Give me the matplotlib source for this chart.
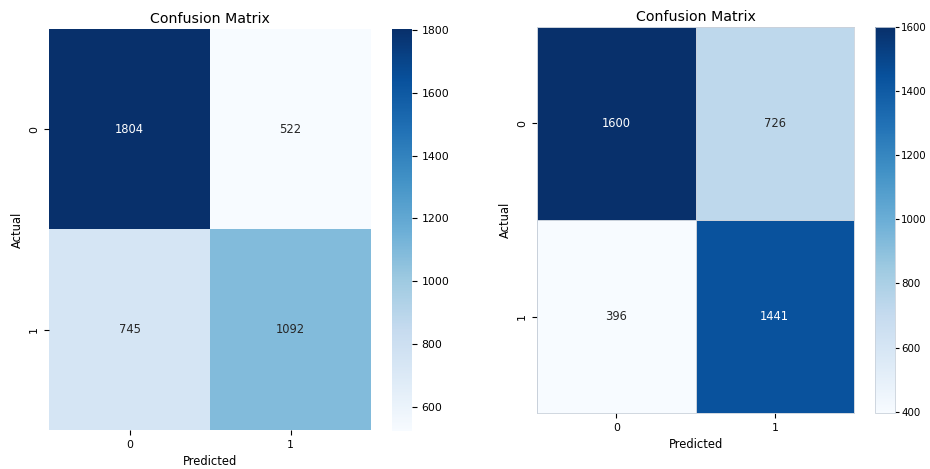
import matplotlib
matplotlib.use("Agg")
import matplotlib.pyplot as plt
import numpy as np
import seaborn as sns

# confusion matrices for the two classifiers (rows = actual, cols = predicted)
cm_left = np.array([[1804, 522],
                    [745, 1092]])
cm_right = np.array([[1600, 726],
                     [396, 1441]])
class_labels = ["0", "1"]

W, H = 930, 469
fig = plt.figure(figsize=(W / 100, H / 100), dpi=100)


def px_axes(x0, y0, x1, y1):
    # axes from pixel box (top-left origin)
    return fig.add_axes([x0 / W, 1 - y1 / H, (x1 - x0) / W, (y1 - y0) / H])


def draw_cm(ax, cax, cm, ticks, edge=None):
    kw = {}
    if edge:
        kw = dict(linewidths=0.4, linecolor=edge)
    sns.heatmap(cm, annot=True, fmt="d", cmap="Blues", ax=ax, cbar_ax=cax,
                xticklabels=class_labels, yticklabels=class_labels,
                annot_kws={"fontsize": 8.3}, **kw)
    ax.set_title("Confusion Matrix", fontsize=10.2, pad=4)
    ax.set_xlabel("Predicted", fontsize=8.3)
    ax.set_ylabel("Actual", fontsize=8.3)
    ax.tick_params(labelsize=7.8)
    plt.setp(ax.get_yticklabels(), rotation=90, va="center")
    cax.set_yticks(ticks)
    cax.tick_params(labelsize=7.8)
    if edge:
        cax.tick_params(labelsize=7.4, pad=1.5, length=3)
        for s in ax.spines.values():
            s.set_visible(True)
            s.set_color(edge)
            s.set_linewidth(0.6)
        cb = ax.collections[0].colorbar
        cb.outline.set_visible(True)
        cb.outline.set_edgecolor(edge)
        cb.outline.set_linewidth(0.6)


ax1 = px_axes(49, 29, 371, 430)
cax1 = px_axes(392, 29, 412, 431)
draw_cm(ax1, cax1, cm_left, [600, 800, 1000, 1200, 1400, 1600, 1800])

ax2 = px_axes(537, 27, 854, 413)
cax2 = px_axes(875, 27, 895, 413)
draw_cm(ax2, cax2, cm_right, [400, 600, 800, 1000, 1200, 1400, 1600],
        edge="#c9d1db")

fig.savefig("out.png", dpi=100)
